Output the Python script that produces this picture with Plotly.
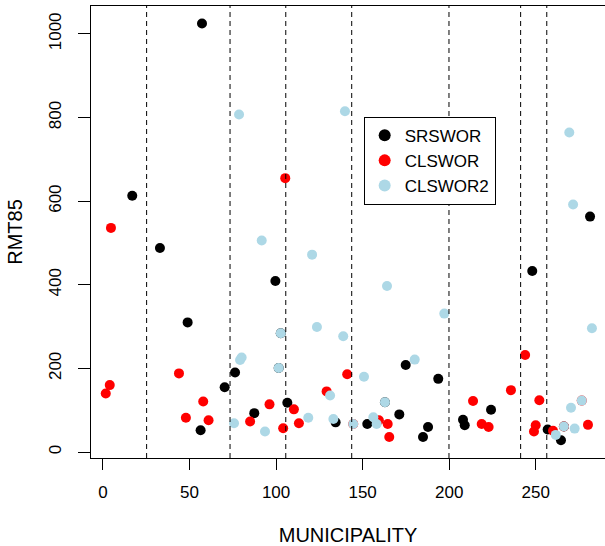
import plotly.graph_objects as go

# SRSWOR sample (MUNICIPALITY, RMT85)
sr_x = [57.2, 16.9, 32.9, 99.6, 48.9, 102.7, 101.5, 76.3, 70.3, 106.5, 87.4, 56.4,
        134.4, 152.7, 162.9, 171.2, 174.9, 193.7, 187.8, 184.9, 208.0, 209.0, 224.2,
        248.0, 256.9, 264.6, 281.4, 266.3]
sr_y = [1025, 613, 488, 409, 310, 284, 201, 190, 155, 118, 93, 52,
        71, 67, 119, 90, 208, 175, 60, 36, 77, 64, 101,
        433, 54, 28, 563, 61]

# CLSWOR sample
cl_x = [4.6, 105.3, 43.9, 141.1, 3.9, 1.6, 129.2, 57.9, 96.2, 110.3, 47.9, 61.0,
        85.0, 113.2, 104.1, 144.6, 159.4, 164.5, 165.4, 243.9, 235.7, 213.8, 252.1,
        218.8, 222.8, 250.0, 249.0, 260.0, 276.6, 280.2, 266.3]
cl_y = [536, 655, 188, 186, 160, 140, 145, 121, 114, 102, 82, 76,
        73, 69, 57, 67, 76, 67, 36, 232, 148, 122, 124,
        67, 60, 64, 49, 51, 123, 65, 61]

# CLSWOR2 sample
cl2_x = [78.6, 139.8, 269.4, 271.6, 91.7, 120.8, 102.7, 123.6, 138.8, 80.1, 79.2,
         101.5, 131.2, 118.6, 75.7, 133.1, 93.6, 164.1, 197.2, 282.5, 180.1, 150.8,
         162.9, 144.6, 156.2, 158.1, 270.4, 276.6, 261.6, 266.3, 272.5]
cl2_y = [807, 815, 764, 592, 506, 472, 284, 299, 277, 226, 220,
         201, 135, 82, 69, 79, 49, 397, 331, 296, 221, 180,
         119, 67, 83, 67, 106, 123, 41, 61, 56]

# cluster boundaries (dashed vertical lines)
bounds = [25.2, 73.4, 105.6, 143.7, 199.9, 241.3, 256.4]

x_ticks = [0, 50, 100, 150, 200, 250]
y_ticks = [0, 200, 400, 600, 800, 1000]

FONT = "Liberation Sans, Arial, Helvetica, sans-serif"

fig = go.Figure()
for name, xs, ys, col in [("SRSWOR", sr_x, sr_y, "black"),
                          ("CLSWOR", cl_x, cl_y, "red"),
                          ("CLSWOR2", cl2_x, cl2_y, "lightblue")]:
    fig.add_trace(go.Scatter(x=xs, y=ys, mode="markers", name=name,
                             marker=dict(color=col, size=10, line=dict(width=0))))

for b in bounds:
    fig.add_shape(type="line", x0=b, x1=b, y0=0, y1=1, xref="x", yref="paper",
                  line=dict(color="black", width=1, dash="5px,4px"), layer="above")

fig.update_layout(
    width=605, height=546,
    margin=dict(l=91, r=0, t=6, b=86),
    paper_bgcolor="white", plot_bgcolor="white",
    font=dict(family=FONT, size=17, color="black"),
    showlegend=True,
    legend=dict(x=0.5305, y=0.6577, xanchor="left", yanchor="middle",
                bgcolor="white", bordercolor="black", borderwidth=1,
                font=dict(family=FONT, size=17, color="black"),
                itemsizing="constant"),
    xaxis=dict(range=[-6.93, 290.04], showline=True, linecolor="black", linewidth=1,
               mirror=True, ticks="outside", ticklen=11, tickcolor="black",
               tickvals=x_ticks, showgrid=False, zeroline=False,
               title=dict(text="MUNICIPALITY", standoff=30),
               ticklabelstandoff=8),
    yaxis=dict(range=[-14.29, 1066.67], showline=True, linecolor="black", linewidth=1,
               mirror=False, ticks="outside", ticklen=12, tickcolor="black",
               tickvals=y_ticks, tickangle=-90, showgrid=False, zeroline=False,
               title=dict(text="RMT85", standoff=18),
               ticklabelstandoff=10),
)

fig.write_html("out.html",
               config={"displayModeBar": False},
               post_script="document.body.style.margin='0';"
                           "document.body.style.overflow='hidden';")
